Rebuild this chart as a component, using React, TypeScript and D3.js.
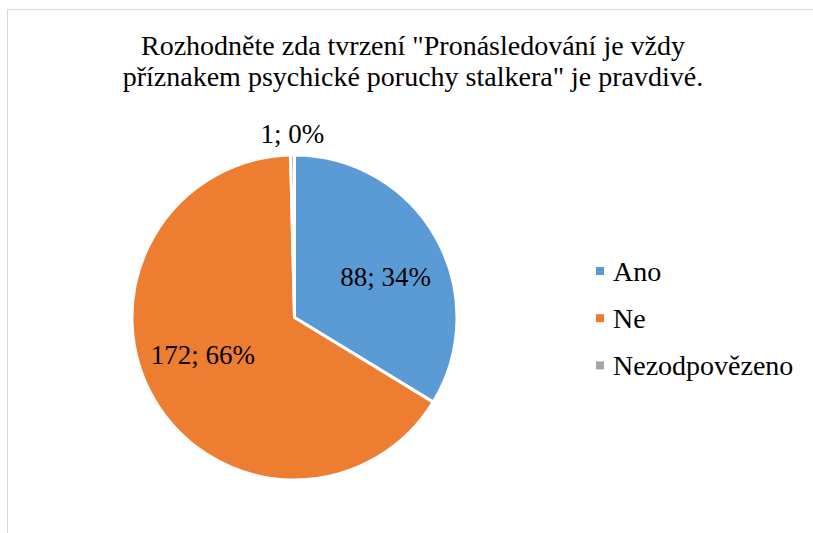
import React from "react";
import * as d3 from "d3";

const titleLines = [
  "Rozhodněte zda tvrzení \"Pronásledování je vždy",
  "příznakem psychické poruchy stalkera\" je pravdivé.",
];
const categories = ["Ano", "Ne", "Nezodpovězeno"];
const values = [88, 172, 1];
const colors = ["#5B9BD5", "#ED7D31", "#A5A5A5"];

const W = 813;
const H = 533;
const FONT = "'Liberation Serif', 'Times New Roman', serif";

// layout
const cx = 294.5;
const cy = 317.5;
const R = 162.5;
const labelR = [100, 100, 184];
const labelNudge: [number, number][] = [
  [4, 8],
  [-5, -13],
  [0, 0],
];

export default function App() {
  const total = d3.sum(values);
  const pie = d3
    .pie<number>()
    .sort(null)
    .value((d) => d);
  const arcs = pie(values);
  const arcGen = d3.arc<d3.PieArcDatum<number>>().innerRadius(0).outerRadius(R);

  return (
    <svg
      width={W}
      height={H}
      style={{ position: "fixed", left: 0, top: 0, background: "#fff" }}
      fontFamily={FONT}
    >
      <rect x={7.5} y={9.5} width={W + 20} height={H + 20} fill="#fff" stroke="#D9D9D9" strokeWidth={1} />
      {titleLines.map((t, i) => (
        <text key={i} x={413} y={55 + i * 31} textAnchor="middle" fontSize={28} fill="#000">
          {t}
        </text>
      ))}
      <g transform={`translate(${cx},${cy})`}>
        {arcs.map((a, i) => (
          <path key={i} d={arcGen(a) || ""} fill={colors[i]} stroke="#fff" strokeWidth={3} strokeLinejoin="round" />
        ))}
        {arcs.map((a, i) => {
          const mid = (a.startAngle + a.endAngle) / 2;
          const x = Math.sin(mid) * labelR[i] + labelNudge[i][0];
          const y = -Math.cos(mid) * labelR[i] + labelNudge[i][1];
          const pct = Math.round((values[i] / total) * 100);
          return (
            <text key={i} x={x} y={y} textAnchor="middle" dominantBaseline="central" fontSize={27} fill="#000">
              {`${values[i]}; ${pct}%`}
            </text>
          );
        })}
      </g>
      {categories.map((c, i) => (
        <g key={c} transform={`translate(596,${271 + i * 47.2})`}>
          <rect x={0} y={-4} width={8} height={8} fill={colors[i]} />
          <text x={17} y={0} dominantBaseline="central" fontSize={28} fill="#000">
            {c}
          </text>
        </g>
      ))}
    </svg>
  );
}
